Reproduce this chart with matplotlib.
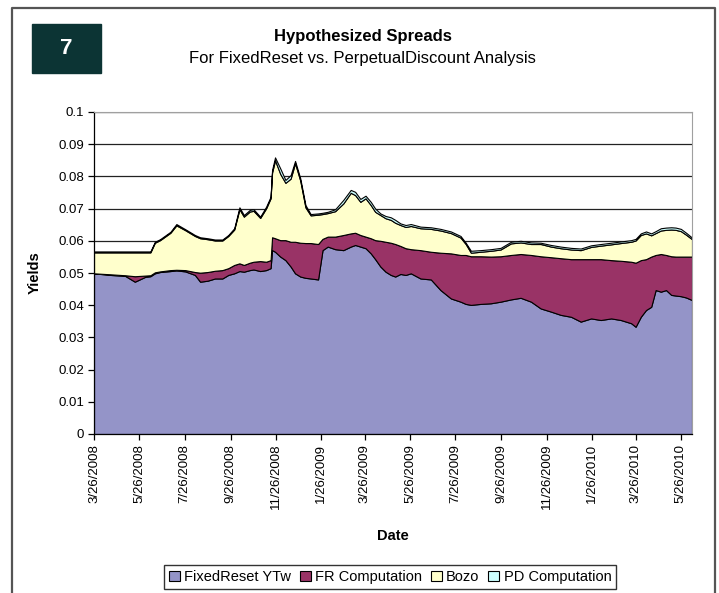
import matplotlib
matplotlib.use("Agg")
import matplotlib.pyplot as plt
import pandas as pd
from matplotlib.patches import Patch, Rectangle
from matplotlib.lines import Line2D

plt.rcParams['font.family'] = ['Liberation Sans', 'DejaVu Sans']

# values
dates = [
    '2008-03-26', '2008-04-17', '2008-05-07', '2008-05-20', '2008-06-03', '2008-06-10',
    '2008-06-16', '2008-06-23', '2008-07-07', '2008-07-15', '2008-07-27', '2008-08-09',
    '2008-08-16', '2008-08-26', '2008-09-05', '2008-09-15', '2008-09-23', '2008-10-01',
    '2008-10-08', '2008-10-14', '2008-10-22', '2008-10-27', '2008-11-05', '2008-11-13',
    '2008-11-19', '2008-11-21', '2008-11-25', '2008-12-02', '2008-12-09', '2008-12-16',
    '2008-12-22', '2008-12-29', '2009-01-05', '2009-01-12', '2009-01-22', '2009-01-28',
    '2009-02-04', '2009-02-14', '2009-02-25', '2009-03-07', '2009-03-13', '2009-03-20',
    '2009-03-27', '2009-04-03', '2009-04-09', '2009-04-16', '2009-04-23', '2009-04-30',
    '2009-05-06', '2009-05-13', '2009-05-20', '2009-05-27', '2009-06-09', '2009-06-23',
    '2009-07-06', '2009-07-20', '2009-08-02', '2009-08-09', '2009-08-16', '2009-08-29',
    '2009-09-12', '2009-09-25', '2009-10-09', '2009-10-22', '2009-11-05', '2009-11-18',
    '2009-12-02', '2009-12-15', '2009-12-29', '2010-01-11', '2010-01-25', '2010-02-07',
    '2010-02-21', '2010-03-06', '2010-03-20', '2010-03-26', '2010-04-02', '2010-04-09',
    '2010-04-16', '2010-04-22', '2010-04-29', '2010-05-06', '2010-05-13', '2010-05-19',
    '2010-05-26', '2010-06-02', '2010-06-10',
]

ytw = [
    .0499, .0494, .0491, .0473, .0488, .0490, .0499, .0503, .0506, .0508, .0505, .0494,
    .0473, .0476, .0483, .0483, .0494, .0499, .0506, .0504, .0509, .0511, .0506, .0509,
    .0515, .0571, .0566, .0551, .0540, .0520, .0499, .0489, .0485, .0483, .0480, .0571,
    .0582, .0574, .0571, .0582, .0587, .0582, .0577, .0561, .0543, .0520, .0504, .0494,
    .0489, .0497, .0494, .0499, .0483, .0480, .0447, .0421, .0411, .0404, .0401, .0404,
    .0406, .0411, .0418, .0423, .0411, .0390, .0380, .0370, .0364, .0349, .0359, .0354,
    .0359, .0354, .0344, .0333, .0364, .0385, .0395, .0447, .0442, .0447, .0432, .0430,
    .0428, .0424, .0416,
]

fr_comp = [
    .0000, .0002, .0002, .0017, .0004, .0003, .0003, .0002, .0003, .0002, .0004, .0009,
    .0028, .0027, .0024, .0026, .0021, .0026, .0024, .0021, .0023, .0024, .0031, .0026,
    .0025, .0040, .0042, .0051, .0062, .0077, .0098, .0105, .0108, .0110, .0110, .0035,
    .0031, .0039, .0047, .0041, .0038, .0036, .0036, .0047, .0059, .0080, .0093, .0100,
    .0101, .0087, .0083, .0075, .0088, .0086, .0116, .0140, .0145, .0152, .0151, .0148,
    .0145, .0141, .0138, .0136, .0145, .0162, .0169, .0176, .0179, .0194, .0184, .0189,
    .0181, .0184, .0191, .0199, .0176, .0158, .0156, .0109, .0117, .0109, .0120, .0121,
    .0123, .0127, .0135,
]

bozo = [
    .0065, .0068, .0071, .0074, .0072, .0071, .0092, .0097, .0116, .0138, .0124, .0112,
    .0107, .0102, .0094, .0092, .0100, .0110, .0168, .0150, .0159, .0158, .0134, .0166,
    .0192, .0201, .0242, .0206, .0178, .0196, .0244, .0193, .0111, .0086, .0091, .0077,
    .0073, .0079, .0098, .0126, .0117, .0103, .0119, .0103, .0088, .0080, .0073, .0071,
    .0066, .0065, .0066, .0072, .0068, .0071, .0069, .0063, .0054, .0034, .0011, .0014,
    .0018, .0021, .0036, .0036, .0034, .0038, .0033, .0031, .0030, .0028, .0038, .0042,
    .0049, .0055, .0062, .0069, .0078, .0080, .0066, .0068, .0073, .0078, .0083, .0083,
    .0079, .0068, .0054,
]

pd_comp = [
    .0003, .0003, .0003, .0003, .0003, .0003, .0003, .0003, .0003, .0004, .0003, .0003,
    .0003, .0003, .0003, .0003, .0003, .0004, .0006, .0005, .0005, .0005, .0004, .0005,
    .0005, .0008, .0009, .0017, .0009, .0011, .0007, .0007, .0007, .0004, .0004, .0004,
    .0004, .0006, .0011, .0009, .0010, .0009, .0008, .0010, .0010, .0005, .0007, .0008,
    .0009, .0005, .0006, .0006, .0005, .0005, .0005, .0005, .0005, .0004, .0006, .0005,
    .0005, .0005, .0005, .0005, .0005, .0004, .0005, .0005, .0005, .0005, .0005, .0005,
    .0005, .0005, .0005, .0005, .0005, .0006, .0006, .0006, .0007, .0007, .0007, .0007,
    .0007, .0006, .0005,
]

series_names = ['FixedReset YTw', 'FR Computation', 'Bozo', 'PD Computation']
colors = ['#9494c8', '#993366', '#ffffcc', '#ccffff']

tick_dates = [
    '2008-03-26', '2008-05-26', '2008-07-26', '2008-09-26', '2008-11-26', '2009-01-26',
    '2009-03-26', '2009-05-26', '2009-07-26', '2009-09-26', '2009-11-26', '2010-01-26',
    '2010-03-26', '2010-05-26',
]
tick_labels = [
    '3/26/2008', '5/26/2008', '7/26/2008', '9/26/2008', '11/26/2008', '1/26/2009',
    '3/26/2009', '5/26/2009', '7/26/2009', '9/26/2009', '11/26/2009', '1/26/2010',
    '3/26/2010', '5/26/2010',
]
y_ticks = [0, 0.01, 0.02, 0.03, 0.04, 0.05, 0.06, 0.07, 0.08, 0.09, 0.1]
y_labels = ['0', '0.01', '0.02', '0.03', '0.04', '0.05', '0.06', '0.07', '0.08', '0.09', '0.1']

W, H = 719, 593
fig = plt.figure(figsize=(W / 100, H / 100), dpi=100)

# outer frame (open at the bottom)
fig.add_artist(Line2D([12 / W, 12 / W, 715 / W, 715 / W], [0, 1 - 8 / H, 1 - 8 / H, 0],
                      color='#555555', lw=1.6, transform=fig.transFigure))

# number badge
fig.add_artist(Rectangle((32 / W, 1 - 73 / H), 69 / W, 49 / H, color='#0c3434',
                         transform=fig.transFigure))
fig.text(66.5 / W, 1 - 48.5 / H, '7', color='white', fontsize=16, fontweight='bold',
         ha='center', va='center')

fig.text(363 / W, 1 - 37 / H, 'Hypothesized Spreads', fontsize=12, fontweight='bold',
         ha='center', va='center')
fig.text(362 / W, 1 - 59 / H, 'For FixedReset vs. PerpetualDiscount Analysis', fontsize=12,
         ha='center', va='center')

ax = fig.add_axes([94 / W, 1 - 434 / H, 598 / W, 322 / H])
x = pd.to_datetime(dates)
ax.stackplot(x, ytw, fr_comp, bozo, pd_comp, colors=colors, edgecolor='black',
             linewidth=0.8, zorder=2)

ax.set_xlim(x[0], x[-1])
ax.set_ylim(0, 0.1)
ax.set_yticks(y_ticks)
ax.set_yticklabels(y_labels)
ax.set_xticks(pd.to_datetime(tick_dates))
ax.set_xticklabels(tick_labels, rotation=90)
ax.tick_params(direction='out', length=4, width=0.9, labelsize=9.5, pad=3)

ax.yaxis.grid(True, color='#222222', lw=0.9)
ax.set_axisbelow(True)
for side in ['top', 'right']:
    ax.spines[side].set_color('#a0a0a0')
for side in ['left', 'bottom']:
    ax.spines[side].set_color('black')
    ax.spines[side].set_linewidth(0.9)

ax.set_ylabel('Yields', fontsize=10.5, fontweight='bold', labelpad=12)
ax.set_xlabel('Date', fontsize=10.5, fontweight='bold', labelpad=14)

handles = [Patch(facecolor=c, edgecolor='black', lw=0.8) for c in colors]
fig.legend(handles, series_names, loc='center', bbox_to_anchor=(390 / W, 1 - 577 / H),
           ncol=4, fontsize=10.5, frameon=True, fancybox=False, edgecolor='black',
           handlelength=0.75, handleheight=0.75, handletextpad=0.3, columnspacing=0.6,
           borderpad=0.35)

fig.savefig('out.png', dpi=100)
